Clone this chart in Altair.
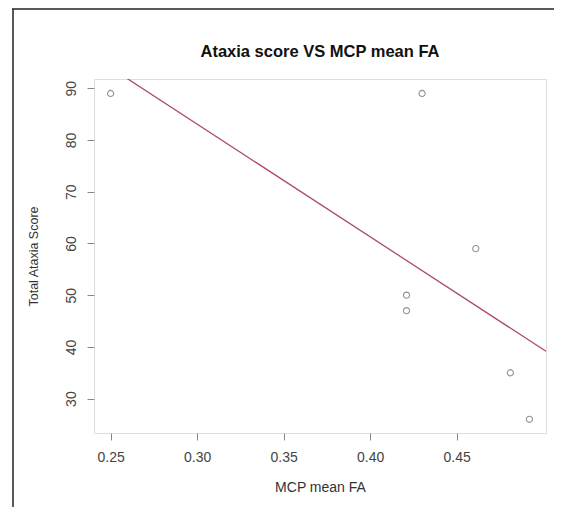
import altair as alt
import pandas as pd

mcp_fa = [0.25, 0.43, 0.461, 0.421, 0.421, 0.481, 0.492]
ataxia = [89, 89, 59, 50, 47, 35, 26]
x_ticks = [0.25, 0.30, 0.35, 0.40, 0.45]
y_ticks = [30, 40, 50, 60, 70, 80, 90]
x_domain = [0.2404, 0.5016]
y_domain = [23.35, 91.8]
title_text = "Ataxia score VS MCP mean FA"

df = pd.DataFrame({"fa": mcp_fa, "score": ataxia})

W, H = 452, 354
FONT = "Liberation Sans"

xenc = alt.X("fa:Q", scale=alt.Scale(domain=x_domain, nice=False, zero=False),
             axis=alt.Axis(values=x_ticks, format=".2f", title="MCP mean FA",
                           domain=False, grid=False, tickSize=7, tickColor="#888",
                           labelFontSize=14, labelColor="#444", labelFont=FONT,
                           labelPadding=10, titleFontSize=14, titleFont=FONT,
                           titleFontWeight="normal", titleColor="#333", titlePadding=16))
yenc = alt.Y("score:Q", scale=alt.Scale(domain=y_domain, nice=False, zero=False),
             axis=alt.Axis(values=y_ticks, format="d", title="Total Ataxia Score",
                           domain=False, grid=False, tickSize=7, tickColor="#888",
                           labelFontSize=14, labelColor="#444", labelFont=FONT,
                           labelAngle=270, labelAlign="center", labelBaseline="bottom",
                           labelPadding=9, titleFontSize=12.5, titleFont=FONT,
                           titleFontWeight="normal", titleColor="#333", titlePadding=24))

points = alt.Chart(df).mark_point(shape="circle", filled=False, size=38,
                                  color="#666", strokeWidth=1.1).encode(x=xenc, y=yenc)

fit = alt.Chart(df).transform_regression("fa", "score", extent=x_domain).mark_line(
    color="#ad4c68", strokeWidth=1.3, clip=True).encode(x="fa:Q", y="score:Q")

one = alt.Data(values=[{"t": title_text}])
title = alt.Chart(one).mark_text(fontSize=16.5, fontWeight="bold", font=FONT,
                                 color="#111", align="center", baseline="middle").encode(
    text="t:N", x=alt.value(W / 2), y=alt.value(-27.3))

top_line = alt.Chart(one).mark_rule(color="#222", strokeWidth=1.5).encode(
    x=alt.value(-82), x2=alt.value(W + 20), y=alt.value(-70))
left_line = alt.Chart(one).mark_rule(color="#222", strokeWidth=1.5).encode(
    x=alt.value(-81), y=alt.value(-70), y2=alt.value(H + 80))

chart = alt.layer(points, fit, title, top_line, left_line).properties(
    width=W, height=H,
    autosize=alt.AutoSizeParams(type="none"),
    padding={"left": 86, "top": 71, "right": 8, "bottom": 74},
).configure_view(stroke="#888", strokeWidth=1.5).configure(background="white")

chart.save("out.html", embed_options={"renderer": "svg", "actions": False})
